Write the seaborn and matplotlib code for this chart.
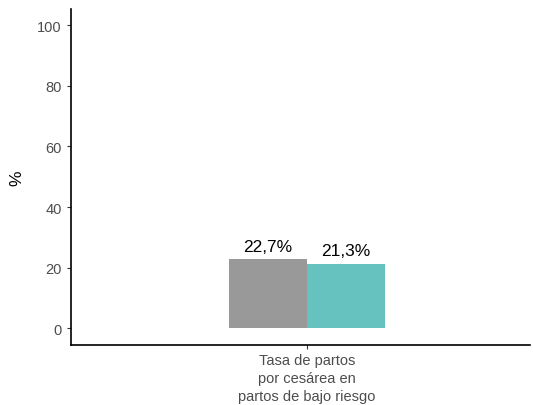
import matplotlib
matplotlib.use("Agg")
import matplotlib.pyplot as plt
import seaborn as sns
import pandas as pd

categories = ["Tasa de partos\npor cesárea en\npartos de bajo riesgo"]
groups = ["Referencia", "Establecimiento"]
values = [22.7, 21.3]
labels = ["22,7%", "21,3%"]
colors = ["#999999", "#66C2BE"]
yticks = [0, 20, 40, 60, 80, 100]

df = pd.DataFrame({
    "categoria": categories * len(groups),
    "grupo": groups,
    "valor": values,
})

sns.set_theme(style="ticks")
plt.rcParams["font.family"] = ["Liberation Sans", "DejaVu Sans"]

fig = plt.figure(figsize=(5.33, 4.06), dpi=100)
ax = fig.add_axes([71 / 533, (406 - 346) / 406, (530 - 71) / 533, (346 - 10) / 406])

sns.barplot(data=df, x="categoria", y="valor", hue="grupo", palette=colors,
            width=0.8, saturation=1, legend=False, linewidth=0, ax=ax)

for bar, lab in zip(ax.patches, labels):
    ax.annotate(lab, (bar.get_x() + bar.get_width() / 2, bar.get_height()),
                xytext=(0, 4), textcoords="offset points", ha="center", va="bottom",
                fontsize=12.5, color="black")

ax.set_ylim(-5.5, 105.3)
ax.set_xlim(-1.204, 1.138)
ax.set_yticks(yticks)
ax.set_yticklabels([str(v) for v in yticks])
ax.set_xlabel("")
ax.set_ylabel("%", fontsize=12.5, color="black", labelpad=9)
ax.tick_params(axis="both", colors="#333333", labelcolor="#4D4D4D", labelsize=10.5,
               length=3, width=0.8)
ax.tick_params(axis="x", pad=3)
for lbl in ax.get_xticklabels():
    lbl.set_linespacing(1.35)
for side in ["top", "right"]:
    ax.spines[side].set_visible(False)
for side in ["left", "bottom"]:
    ax.spines[side].set_linewidth(1.2)
    ax.spines[side].set_color("black")

fig.savefig("out.png", dpi=100)
